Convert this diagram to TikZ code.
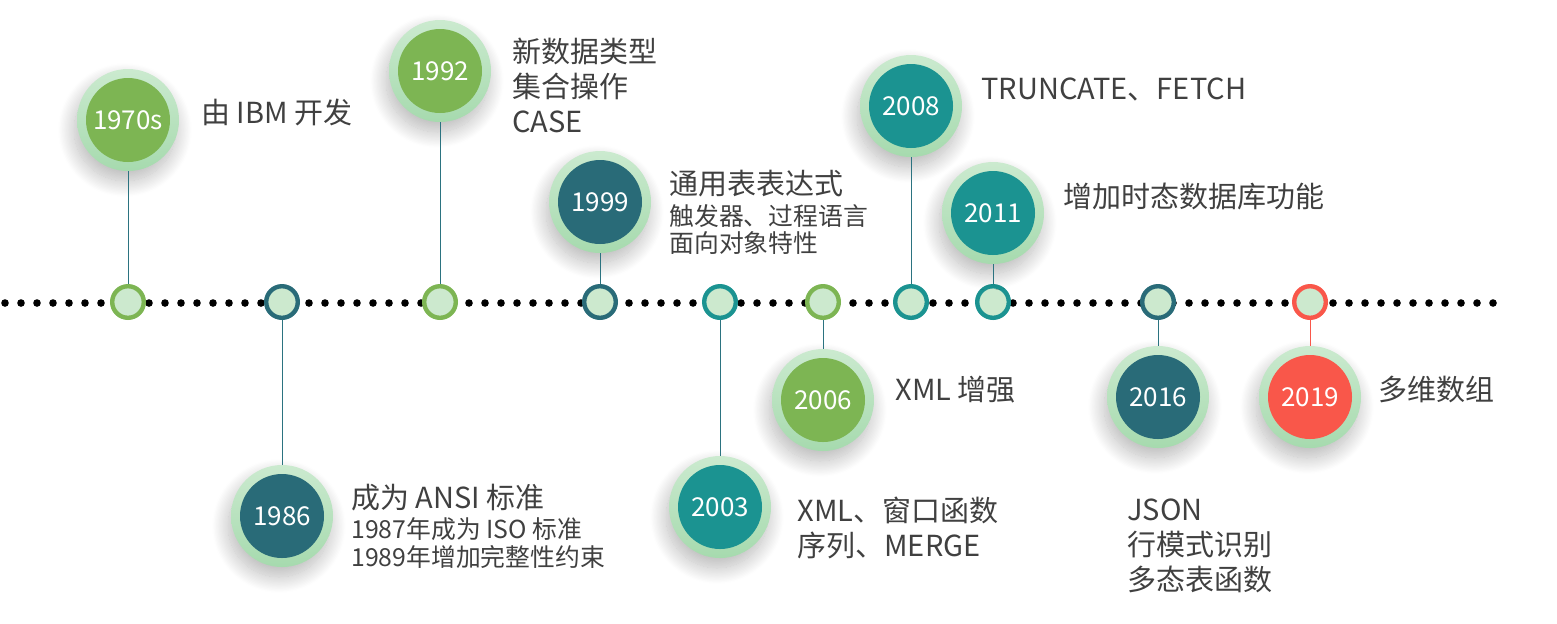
\documentclass[tikz,border=0pt]{standalone}
\usepackage{fontspec}
\setmainfont{Noto Sans CJK SC}
\usetikzlibrary{positioning,shadows.blur}
\definecolor{leaf}{HTML}{7DB553}
\definecolor{deepteal}{HTML}{296B78}
\definecolor{seateal}{HTML}{1B9391}
\definecolor{coral}{HTML}{F9574A}
\definecolor{halotop}{HTML}{CBEACF}
\definecolor{halobot}{HTML}{A6DAAE}
\definecolor{mint}{HTML}{CCE9CE}
\definecolor{stemteal}{HTML}{2B7380}
\definecolor{ink}{HTML}{404040}
\newcommand{\yearfont}{\fontsize{13pt}{15pt}\selectfont}
\newcommand{\notefont}{\fontsize{14.5pt}{17.5pt}\selectfont}
\newcommand{\subfont}{\fontsize{12.4pt}{14pt}\selectfont}
\tikzset{
dotline/.style={line width=3.8pt,line cap=round,dash pattern=on 0pt off 8pt},
marker/.style={circle,draw=#1,line width=2.2pt,fill=mint,minimum size=15.8pt,inner sep=0pt},
yearbig/.style={circle,top color=halotop,bottom color=halobot,minimum size=51pt,inner sep=0pt,
text=white,font=\yearfont,
path picture={\fill[#1] (path picture bounding box.center) circle (21pt);},
blur shadow={shadow xshift=-1.5pt,shadow yshift=-5pt,shadow blur radius=8pt,
shadow blur steps=24,shadow opacity=28}},
stem/.style={line width=0.5pt,draw=#1},
note/.style={anchor=west,align=left,font=\notefont,text=ink,inner sep=0pt}
}
\begin{document}
\begin{tikzpicture}[x=0.5pt,y=-0.5pt]
\useasboundingbox (0,0) rectangle (1557,623);
% time axis
\draw[dotline] (5,303) -- (1493,303);
% markers on the axis
\node[marker=leaf] (m1970) at (128,302) {};
\node[marker=deepteal] (m1986) at (282,302) {};
\node[marker=leaf] (m1992) at (440,302) {};
\node[marker=deepteal] (m1999) at (600,302) {};
\node[marker=seateal] (m2003) at (720,302) {};
\node[marker=leaf] (m2006) at (823,302) {};
\node[marker=seateal] (m2008) at (911,302) {};
\node[marker=seateal] (m2011) at (993,302) {};
\node[marker=deepteal] (m2016) at (1158,302) {};
\node[marker=coral] (m2019) at (1310,302) {};
% year badges
\node[yearbig=leaf] (y1970) at (128,120) {1970s};
\node[yearbig=leaf] (y1992) at (440,71) {1992};
\node[yearbig=deepteal] (y1999) at (600,202) {1999};
\node[yearbig=seateal] (y2008) at (911,106) {2008};
\node[yearbig=seateal] (y2011) at (993,213) {2011};
\node[yearbig=deepteal] (y1986) at (282,516) {1986};
\node[yearbig=seateal] (y2003) at (720,507) {2003};
\node[yearbig=leaf] (y2006) at (823,400) {2006};
\node[yearbig=deepteal] (y2016) at (1158,397) {2016};
\node[yearbig=coral] (y2019) at (1310,397) {2019};
% stems
\draw[stem=stemteal] (m1970) -- (y1970);
\draw[stem=stemteal] (m1992) -- (y1992);
\draw[stem=stemteal] (m1999) -- (y1999);
\draw[stem=stemteal] (m2008) -- (y2008);
\draw[stem=stemteal] (m2011) -- (y2011);
\draw[stem=stemteal] (m1986) -- (y1986);
\draw[stem=stemteal] (m2003) -- (y2003);
\draw[stem=stemteal] (m2006) -- (y2006);
\draw[stem=stemteal] (m2016) -- (y2016);
\draw[stem=coral] (m2019) -- (y2019);
% notes
\node[note] (n1970) at (201,112) {由 IBM 开发};
\node[note] (n1992) at (512,85) {新数据类型\\集合操作\\CASE};
\node[note] (n1999) at (669,212) {通用表表达式\\[-2pt]{\subfont 触发器、过程语言}\\[-4pt]{\subfont 面向对象特性}};
\node[note] (n2008) at (981,89) {TRUNCATE、FETCH};
\node[note] (n2011) at (1063,196) {增加时态数据库功能};
\node[note] (n1986) at (351,526) {成为 ANSI 标准\\[-2.5pt]{\subfont 1987年成为 ISO 标准}\\[-3.5pt]{\subfont 1989年增加完整性约束}};
\node[note] (n2003) at (797,528) {XML、窗口函数\\序列、MERGE};
\node[note] (n2006) at (895,390) {XML 增强};
\node[note] (n2016) at (1127,546) {JSON\\行模式识别\\多态表函数};
\node[note] (n2019) at (1378,389) {多维数组};
\end{tikzpicture}
\end{document}
